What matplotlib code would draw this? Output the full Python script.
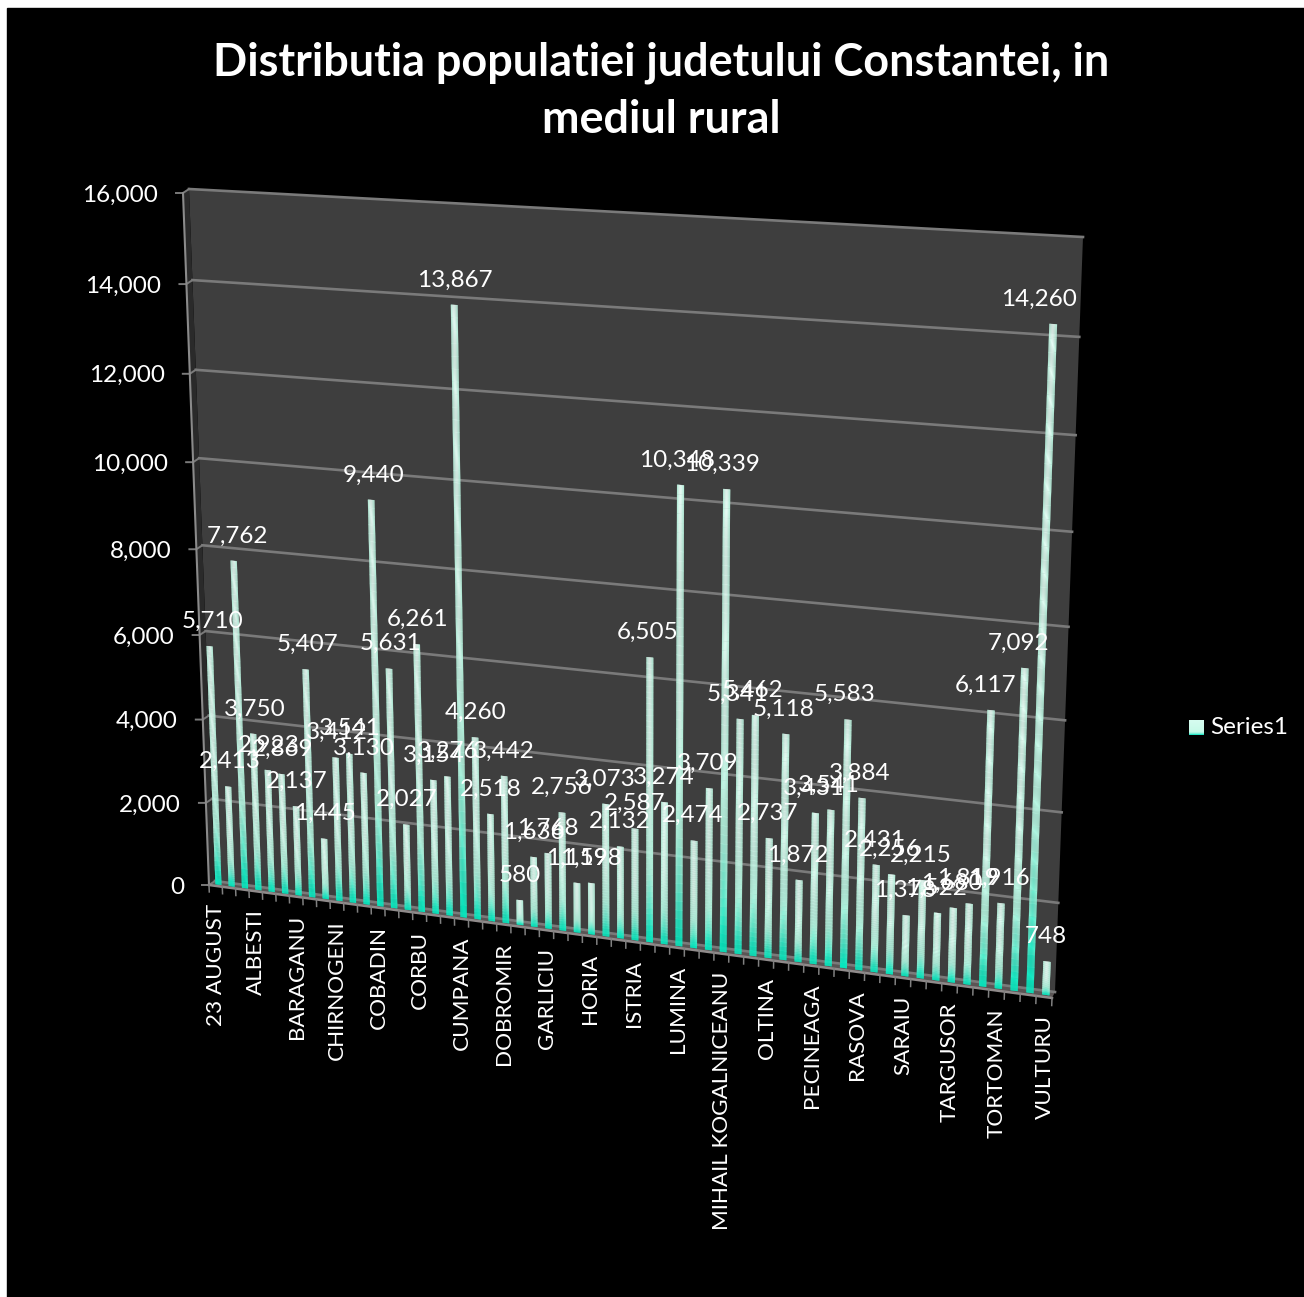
import matplotlib
matplotlib.use('Agg')
import matplotlib.pyplot as plt
import numpy as np
from matplotlib.collections import PolyCollection
from matplotlib.patches import Polygon, Rectangle
from matplotlib.transforms import Transform

plt.rcParams['font.family'] = ['Lato', 'DejaVu Sans']

# population per commune, in chart order
values = [5710, 2413, 7762, 3750, 2923, 2869, 2137, 5407, 1445, 3412,
          3541, 3130, 9440, 5631, 2027, 6261, 3154, 3276, 13867, 4260,
          2518, 3442, 580, 1636, 1768, 2756, 1159, 1198, 3073, 2132,
          2587, 6505, 3274, 10348, 2474, 3709, 10339, 5341, 5462, 2737,
          5118, 1872, 3431, 3541, 5583, 3884, 2431, 2256, 1378, 2215,
          1522, 1680, 1819, 6117, 1916, 7092, 14260, 748]
# only every third commune gets a name on the axis
commune_labels = ['23 AUGUST', 'ALBESTI', 'BARAGANU', 'CHIRNOGENI', 'COBADIN',
                  'CORBU', 'CUMPANA', 'DOBROMIR', 'GARLICIU', 'HORIA',
                  'ISTRIA', 'LUMINA', 'MIHAIL KOGALNICEANU', 'OLTINA',
                  'PECINEAGA', 'RASOVA', 'SARAIU', 'TARGUSOR', 'TORTOMAN',
                  'VULTURU']
label_step = 3
y_ticks = [0, 2000, 4000, 6000, 8000, 10000, 12000, 14000, 16000]
y_max = 16000
n = len(values)


class Perspective(Transform):
    """Maps (category, value) onto a quadrilateral on the canvas."""
    input_dims = 2
    output_dims = 2

    def __init__(self, corners):
        super().__init__()
        src = [(0, 0), (n, 0), (n, y_max), (0, y_max)]
        a, b = [], []
        for (x, y), (u, v) in zip(src, corners):
            a.append([x, y, 1, 0, 0, 0, -u * x, -u * y])
            a.append([0, 0, 0, x, y, 1, -v * x, -v * y])
            b += [u, v]
        self.h = np.append(np.linalg.solve(np.array(a, float), np.array(b, float)), 1).reshape(3, 3)

    def transform_non_affine(self, values):
        pts = np.column_stack([values, np.ones(len(values))]) @ self.h.T
        return pts[:, :2] / pts[:, 2:]


# canvas corners of the front and back planes of the 3D box
front_corners = np.array([(209, 885), (1052, 998), (1080, 243), (183, 193)], float)
back_corners = np.array([(215, 881), (1055, 992), (1083, 237), (189, 189)], float)
front = Perspective(front_corners)
back = Perspective(back_corners)
bars_corners = front_corners + 0.35 * (back_corners - front_corners)
bars_corners[:, 0] += 0.7
bars_corners[2:] -= [(0, 2.5), (0, 1)]
bars_plane = Perspective(bars_corners)

fig = plt.figure(figsize=(13.04, 12.97), dpi=100, facecolor='white')
ax = fig.add_axes([0, 0, 1, 1])
ax.set_xlim(0, 1304)
ax.set_ylim(1297, 0)
ax.axis('off')
ax.add_patch(Rectangle((7, 8), 1297, 1289, color='black', zorder=0))

on_front = front + ax.transData
on_back = back + ax.transData
on_bars = bars_plane + ax.transData

# walls and floor
ax.add_patch(Polygon(back_corners, color='#3e3e3e', lw=0, zorder=1))
ax.add_patch(Polygon([front_corners[0], back_corners[0], back_corners[3], front_corners[3]],
                     color='#2a2a2a', lw=0, zorder=1))
ax.add_patch(Polygon([front_corners[0], front_corners[1], back_corners[1], back_corners[0]],
                     color='#5a5555', lw=0, zorder=1))

grid_color = '#7a7a7a'
for v in y_ticks:
    ax.plot([0, n], [v, v], color=grid_color, lw=1.9, transform=on_back, zorder=2)
    p0 = front.transform([[0, v]])[0]
    p1 = back.transform([[0, v]])[0]
    ax.plot([p0[0] - 7, p0[0], p1[0]], [p0[1], p0[1], p1[1]], color=grid_color, lw=1.4, zorder=2)
    ax.text(p0[0] - 25, p0[1] + 2, f'{v:,}', color='white', fontsize=17.5,
            ha='right', va='center', zorder=6)

ax.plot([0, 0], [0, y_max], color='#8a8a8a', lw=1.5, transform=on_front, zorder=2)
ax.plot([0, n], [0, 0], color='#8f8a8a', lw=1.8, transform=on_front, zorder=2)

# category ticks hanging below the front edge
for i in range(n + 1):
    ax.plot([i, i], [0, -170], color='#808080', lw=1.1, transform=on_front, zorder=2)

for k, name in enumerate(commune_labels):
    px, py = front.transform([[k * label_step + 0.5, 0]])[0]
    ax.text(px + 0.5, py + 18, name, color='white', fontsize=16.2, rotation=90,
            ha='center', va='top', zorder=6)

# gradient stops along the height of a bar
stop_pos = [0.0, 0.05, 0.13, 0.26, 0.5, 1.0]
stop_col = np.array([(0, 232, 190), (25, 234, 196), (100, 240, 210),
                     (180, 246, 226), (222, 251, 241), (232, 252, 245)], float) / 255
edge_col = np.array((178, 240, 218), float) / 255
bar_width = 0.45
rows = 50
across = np.linspace(0, 1, 8)
shade = np.array([0.8, 0.45, 0.15, 0.0, 0.15, 0.45, 0.8])

polys, cols = [], []
for i, v in enumerate(values):
    left = i + 0.5 - bar_width / 2
    levels = np.linspace(0, v, rows + 1)
    for r in range(rows):
        f = (r + 0.5) / rows
        base = np.array([np.interp(f, stop_pos, stop_col[:, c]) for c in range(3)])
        for c in range(len(shade)):
            x0 = left + across[c] * bar_width
            x1 = left + across[c + 1] * bar_width
            polys.append([(x0, levels[r]), (x1, levels[r]), (x1, levels[r + 1]), (x0, levels[r + 1])])
            w = shade[c] * min(1.0, f / 0.25)
            cols.append(base * (1 - w) + edge_col * w)
ax.add_collection(PolyCollection(polys, facecolors=cols, edgecolors='face', linewidths=0.2,
                                 transform=on_bars, zorder=3))

# value labels above each bar; tall bars toward the far end lean further left
for i, v in enumerate(values):
    px, py = bars_plane.transform([[i + 0.5, v]])[0]
    t = i / (n - 1)
    ax.text(px + v / 14000 * (8 - 22 * t), py - 25, f'{v:,}', color='white', fontsize=17.5,
            ha='center', va='center', zorder=7)

# legend
swatch = np.linspace(0, 1, 30)
swatch_img = np.array([[np.interp(1 - s, [0, 0.08, 0.2, 1], ch) for ch in
                        ([0.05, 0.5, 0.78, 0.84], [0.9, 0.95, 0.98, 0.99], [0.76, 0.85, 0.91, 0.94])]
                       for s in swatch])[:, None, :]
ax.imshow(swatch_img, extent=(1189, 1204, 735, 720), aspect='auto', zorder=6)
ax.set_xlim(0, 1304)
ax.set_ylim(1297, 0)
ax.text(1210, 727, 'Series1', color='white', fontsize=17.5, ha='left', va='center', zorder=6)

ax.text(661, 91, 'Distributia populatiei judetului Constantei, in\nmediul rural', color='white',
        fontsize=32.4, fontweight='bold', ha='center', va='center', linespacing=1.45, zorder=6)

fig.savefig('out.png', dpi=100, facecolor=fig.get_facecolor())
